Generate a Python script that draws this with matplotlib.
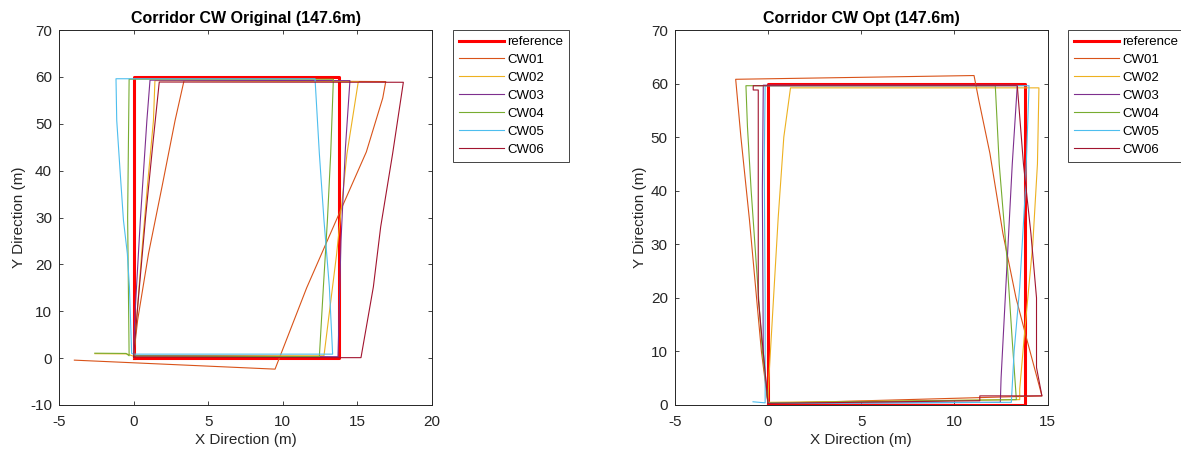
import matplotlib
matplotlib.use("Agg")
import matplotlib.pyplot as plt

plt.rcParams["font.family"] = ["Liberation Sans", "DejaVu Sans"]
plt.rcParams["axes.unicode_minus"] = False

# ---- Reference corridor (clockwise, 13.8 x 60 m) ----
ref_x = [0.0, 0.0, 13.8, 13.8, 0.0]
ref_y = [0.0, 60.0, 60.0, 0.0, 0.0]

run_names = ["CW01", "CW02", "CW03", "CW04", "CW05", "CW06"]
run_colors = ["#D95319", "#EDB120", "#7E2F8E", "#77AC30", "#4DBEEE", "#A2142F"]

# ---- Original trajectories ----
orig_cw01_x = [0.0, 0.02, 0.27, 1.0, 1.9, 2.78, 3.38, 10.0, 16.9, 16.7, 15.6, 13.8, 11.6, 9.48, -3.97]
orig_cw01_y = [0.0, 1.0, 8.1, 22.3, 36.5, 50.7, 59.2, 59.1, 59.0, 55.5, 44.0, 31.0, 15.0, -2.35, -0.43]

orig_cw02_x = [-2.59, -0.46, 0.0, 0.2, 0.54, 0.92, 1.33, 1.43, 15.06, 14.3, 13.6, 12.76, 0.0]
orig_cw02_y = [0.95, 0.9, 0.4, 8.1, 22.3, 36.5, 50.7, 59.2, 59.0, 43.6, 22.0, 0.5, 0.55]

orig_cw03_x = [0.0, 0.07, 0.45, 0.89, 1.1, 14.5, 14.2, 13.9, 13.7, 0.0]
orig_cw03_y = [0.3, 8.1, 29.4, 50.7, 59.3, 59.2, 45.0, 25.0, 0.3, 0.5]

orig_cw04_x = [-2.6, -0.5, -0.3, -0.35, -0.4, -0.35, -0.3, 13.39, 13.21, 12.99, 12.72, 12.45, 0.0]
orig_cw04_y = [1.05, 1.0, 0.5, 15.0, 30.0, 45.0, 59.5, 59.5, 43.6, 29.4, 15.2, 0.3, 0.45]

orig_cw05_x = [0.0, -0.13, -0.28, -0.42, -0.68, -0.91, -1.13, -1.18, 12.16, 12.45, 12.76, 13.12, 13.34, 0.0]
orig_cw05_y = [0.85, 1.0, 15.2, 22.3, 29.4, 40.1, 50.7, 59.6, 59.6, 43.6, 29.4, 15.2, 0.85, 0.85]

orig_cw06_x = [0.0, 0.3, 0.8, 1.3, 1.72, 18.08, 17.36, 16.56, 16.07, 15.24, 13.8, 0.0]
orig_cw06_y = [0.2, 12.0, 30.0, 46.0, 58.9, 58.85, 43.6, 28.0, 15.2, 0.1, 0.1, 0.25]

# ---- Optimised trajectories ----
opt_cw01_x = [0.0, -0.35, -0.99, -1.45, -1.73, 11.05, 11.3, 11.9, 12.6, 13.3, 13.9, 14.69, 0.1]
opt_cw01_y = [0.3, 10.0, 34.5, 50.0, 60.8, 61.5, 57.0, 47.0, 32.0, 20.0, 12.0, 1.7, 0.3]

opt_cw02_x = [0.0, 0.05, 0.3, 0.55, 0.85, 1.21, 14.53, 14.45, 14.2, 13.8, 13.5, 13.5, 0.0]
opt_cw02_y = [0.3, 5.0, 20.0, 35.0, 50.0, 59.2, 59.2, 45.0, 30.0, 15.0, 3.0, 1.0, 0.5]

opt_cw03_x = [0.0, -0.25, -0.3, -0.25, 13.37, 13.1, 12.8, 12.5, 12.46, 0.0]
opt_cw03_y = [0.3, 10.0, 40.0, 59.7, 59.7, 45.0, 25.0, 5.0, 0.5, 0.3]

opt_cw04_x = [0.0, -0.3, -0.6, -0.9, -1.1, -1.18, 12.19, 12.4, 12.8, 13.1, 13.32, 0.0]
opt_cw04_y = [0.3, 10.0, 25.0, 40.0, 52.0, 59.6, 59.6, 45.0, 28.0, 12.0, 1.0, 0.4]

opt_cw05_x = [-0.8, -0.15, -0.15, -0.2, -0.15, 14.0, 13.8, 13.5, 13.2, 13.05, 0.0]
opt_cw05_y = [0.6, 0.4, 20.0, 45.0, 59.6, 59.6, 40.0, 22.0, 10.0, 0.5, 0.3]

opt_cw06_x = [0.0, -0.52, -0.52, -0.79, -0.79, 13.37, 13.7, 14.1, 14.4, 14.4, 14.69, 11.36, 11.36, 0.0]
opt_cw06_y = [0.3, 20.0, 58.8, 58.8, 59.6, 59.6, 45.0, 32.0, 20.0, 7.0, 1.7, 1.7, 0.8, 0.3]

orig_runs = [(orig_cw01_x, orig_cw01_y), (orig_cw02_x, orig_cw02_y), (orig_cw03_x, orig_cw03_y),
             (orig_cw04_x, orig_cw04_y), (orig_cw05_x, orig_cw05_y), (orig_cw06_x, orig_cw06_y)]
opt_runs = [(opt_cw01_x, opt_cw01_y), (opt_cw02_x, opt_cw02_y), (opt_cw03_x, opt_cw03_y),
            (opt_cw04_x, opt_cw04_y), (opt_cw05_x, opt_cw05_y), (opt_cw06_x, opt_cw06_y)]

AX_COLOR = "#262626"


def draw_panel(ax, runs, title, xlim, ylim, legend_x):
    ax.plot(ref_x, ref_y, color="#FF0000", linewidth=2.2, label="reference")
    for (xs, ys), name, c in zip(runs, run_names, run_colors):
        ax.plot(xs, ys, color=c, linewidth=0.8, label=name)

    ax.set_xlim(*xlim)
    ax.set_ylim(*ylim)
    ax.set_xticks(range(xlim[0], xlim[1] + 1, 5))
    ax.set_yticks(range(ylim[0], ylim[1] + 1, 10))
    ax.tick_params(direction="in", top=True, right=True, length=3,
                   width=0.6, colors=AX_COLOR, labelsize=11)
    ax.tick_params(axis="x", pad=7)
    ax.tick_params(axis="y", pad=5)
    for sp in ax.spines.values():
        sp.set_color(AX_COLOR)
        sp.set_linewidth(0.7)

    ax.set_title(title, fontsize=11.5, fontweight="bold", color="black", pad=5)
    ax.set_xlabel("X Direction (m)", fontsize=11, color=AX_COLOR, labelpad=3)
    ax.set_ylabel("Y Direction (m)", fontsize=11, color=AX_COLOR, labelpad=3)

    leg = ax.legend(loc="upper left", bbox_to_anchor=(legend_x, 1 - 30 / 454),
                    bbox_transform=fig.transFigure, fontsize=9.5, frameon=True,
                    fancybox=False, framealpha=1, handlelength=3.4,
                    handletextpad=0.25, labelspacing=0.43, borderpad=0.45,
                    borderaxespad=0)
    leg.get_frame().set_edgecolor(AX_COLOR)
    leg.get_frame().set_linewidth(0.6)


fig = plt.figure(figsize=(11.81, 4.54), dpi=100)
ax_orig = fig.add_axes([59 / 1181, 1 - 405 / 454, 373 / 1181, 375 / 454])
ax_opt = fig.add_axes([674.7 / 1181, 1 - 405 / 454, 373 / 1181, 375 / 454])

draw_panel(ax_orig, orig_runs, "Corridor CW Original (147.6m)", (-5, 20), (-10, 70), 453 / 1181)
draw_panel(ax_opt, opt_runs, "Corridor CW Opt (147.6m)", (-5, 15), (0, 70), 1068 / 1181)

fig.savefig("out.png", dpi=100)
